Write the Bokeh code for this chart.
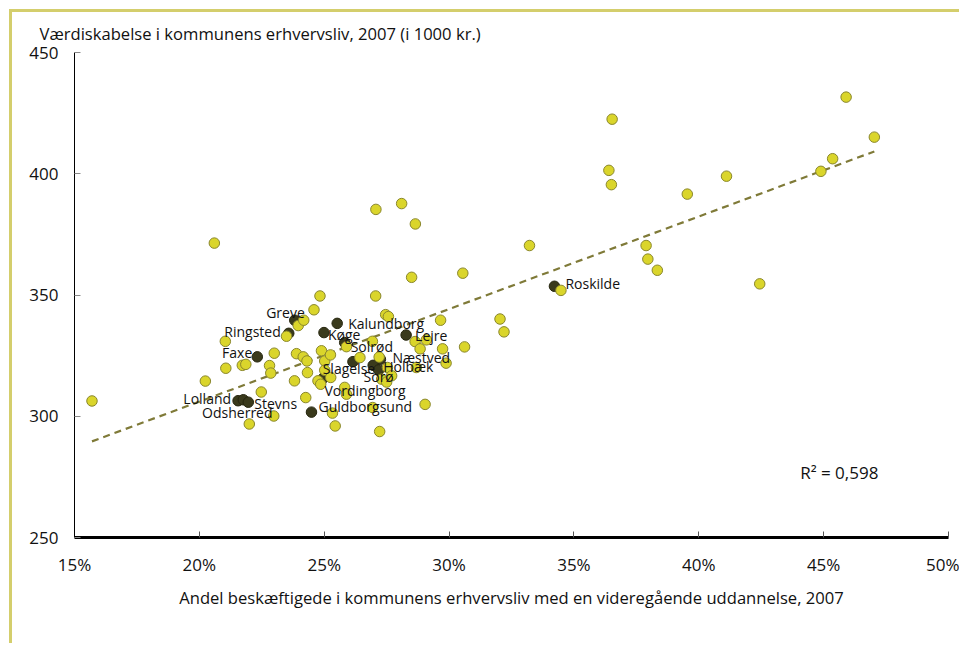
import numpy as np
from bokeh.plotting import figure
from bokeh.models import Range1d, PrintfTickFormatter, FixedTicker, Label, ColumnDataSource
from bokeh.core.properties import value
from bokeh.embed import file_html
from bokeh.resources import INLINE

# ---------------- data ----------------
y_title = "Værdiskabelse i kommunens erhvervsliv, 2007 (i 1000 kr.)"
x_title = "Andel beskæftigede i kommunens erhvervsliv med en videregående uddannelse, 2007"
r2_text = "R² = 0,598"

x_ticks = [15, 20, 25, 30, 35, 40, 45, 50]
y_ticks = [250, 300, 350, 400, 450]

# other municipalities (share with higher education in %, value added in 1000 kr.)
other_x = [15.70, 20.24, 20.60, 21.04, 21.06, 21.72, 21.86, 22.00, 22.48, 22.81,
           22.86, 22.98, 23.00, 23.49, 23.81, 23.89, 23.96, 24.16, 24.18, 24.26,
           24.31, 24.33, 24.59, 24.75, 24.83, 24.86, 24.89, 25.02, 25.02, 25.25,
           25.26, 25.33, 25.44, 25.82, 25.89, 25.89, 26.43, 26.93, 26.94, 27.06,
           27.07, 27.20, 27.22, 27.30, 27.46, 27.50, 27.53, 27.57, 27.70, 28.10,
           28.50, 28.64, 28.65, 28.69, 28.84, 29.04, 29.09, 29.66, 29.74, 29.88,
           30.55, 30.62, 32.04, 32.20, 33.22, 34.48, 36.40, 36.50, 36.53, 37.89,
           37.96, 38.34, 39.54, 41.11, 42.44, 44.89, 45.36, 45.90, 47.03]
other_y = [306.3, 314.5, 371.4, 330.9, 319.8, 321.0, 321.4, 296.8, 310.0, 320.9,
           317.8, 300.1, 326.0, 333.0, 314.6, 325.8, 337.4, 324.5, 339.6, 307.7,
           322.8, 318.0, 343.9, 314.6, 349.6, 313.2, 327.0, 322.8, 319.0, 325.3,
           316.0, 301.3, 296.0, 311.9, 309.1, 328.7, 324.2, 330.9, 303.6, 349.6,
           385.3, 324.4, 293.7, 315.3, 341.9, 314.1, 320.1, 341.1, 316.7, 387.7,
           357.3, 330.8, 379.3, 320.1, 327.8, 304.9, 331.5, 339.6, 327.8, 321.9,
           359.0, 328.6, 340.1, 334.8, 370.4, 351.9, 401.4, 395.5, 422.5, 370.4,
           364.8, 360.2, 391.6, 399.0, 354.6, 401.0, 406.2, 431.6, 415.1]

# Region Sjælland municipalities (highlighted)
names = ["Greve", "Ringsted", "Faxe", "Kalundborg", "Køge", "Solrød", "Lejre",
         "Næstved", "Slagelse", "Holbæk", "Sorø", "Vordingborg", "Guldborgsund",
         "Lolland", "Odsherred", "Stevns", "Roskilde"]
named_x = [23.82, 23.58, 22.32, 25.52, 24.99, 25.82, 28.28,
           27.25, 26.15, 26.96, 27.18, 24.97, 24.49,
           21.55, 21.76, 21.96, 34.22]
named_y = [339.6, 334.2, 324.5, 338.3, 334.5, 330.4, 333.5,
           323.5, 322.5, 321.0, 319.1, 315.8, 301.7,
           306.4, 306.8, 305.8, 353.6]

# label placement (annotation layout, screen pixels)
label_align = ["right", "right", "right", "left", "left", "left", "left",
               "left", "center", "left", "center", "left", "left",
               "right", "center", "left", "left"]
label_dx = [10, -8, -5, 11, 4, 6, 9, 12, -4, 10, 0, 1, 7, -7, -6, 6, 11]
label_dy = [-8, -2, -4, 0, 2, 4, 0, -2, 7, 1, 7, 13, -6, -2, 13, 1, -3]

# ---------------- styling ----------------
FONT = "Open Sans"
YELLOW = "#dad52b"
YELLOW_LINE = "#8a872c"
DARK = "#3a3a1c"
DARK_LINE = "#26260f"
TREND = "#7f7a38"
FRAME = "#d4ce6c"

p = figure(width=950, height=634, output_backend="svg", toolbar_location=None,
           x_range=Range1d(15, 50), y_range=Range1d(250, 450),
           min_border_left=62, min_border_right=14, min_border_top=39,
           min_border_bottom=109)
p.styles = {"margin-left": "9px", "margin-top": "9px",
            "border-left": f"3px solid {FRAME}", "border-top": f"3px solid {FRAME}"}
p.outline_line_color = None
p.grid.visible = False
p.background_fill_color = "white"
p.border_fill_color = "white"

p.title.text = y_title
p.title.align = "left"
p.title.offset = -35
p.title.text_font = FONT
p.title.text_font_size = "16.6px"
p.title.text_font_style = "normal"
p.title.text_color = "#111111"
p.title.standoff = 15

# axes
p.xaxis.ticker = FixedTicker(ticks=x_ticks)
p.yaxis.ticker = FixedTicker(ticks=y_ticks)
p.xaxis.formatter = PrintfTickFormatter(format="%d%%")
p.xaxis.axis_label = x_title
for ax in (p.xaxis, p.yaxis):
    ax.major_label_text_font = FONT
    ax.major_label_text_font_size = "17px"
    ax.major_label_text_color = "#111111"
    ax.minor_tick_line_color = None
    ax.major_tick_out = 0
    ax.major_tick_in = 6
    ax.axis_line_color = "black"
p.yaxis.axis_line_width = 1
p.yaxis.major_tick_line_color = "#888888"
p.yaxis.major_label_standoff = 16
p.xaxis.axis_line_width = 3
p.xaxis.major_tick_line_color = "#555555"
p.xaxis.major_label_standoff = 15
p.xaxis.axis_label_text_font = FONT
p.xaxis.axis_label_text_font_size = "16.6px"
p.xaxis.axis_label_text_font_style = "normal"
p.xaxis.axis_label_text_color = "#111111"
p.xaxis.axis_label_standoff = 7

# trend line (least squares on all municipalities)
all_x = np.array(other_x + named_x)
all_y = np.array(other_y + named_y)
slope, intercept = np.polyfit(all_x, all_y, 1)
tx = np.array([all_x.min(), all_x.max()])
p.line(tx, slope * tx + intercept, line_color=TREND, line_width=2.2, line_dash="7 5")

named_src = ColumnDataSource(dict(x=named_x, y=named_y, name=names, align=label_align,
                                  dx=label_dx, dy=label_dy))
p.scatter(x="x", y="y", source=named_src, size=10.5, fill_color=DARK, line_color=DARK_LINE,
          line_width=1)
p.scatter(other_x, other_y, size=10.5, fill_color=YELLOW, line_color=YELLOW_LINE, line_width=1)
p.text(x="x", y="y", text="name", source=named_src, text_align="align",
       x_offset="dx", y_offset="dy", text_baseline="middle",
       text_font=value(FONT), text_font_size="14px", text_color="#111111")

p.add_layout(Label(x=44.06, y=276.7, text=r2_text, text_font=FONT, text_font_size="17px",
                   text_color="#111111", text_baseline="middle"))

open("out.html", "w").write(file_html(p, INLINE))
